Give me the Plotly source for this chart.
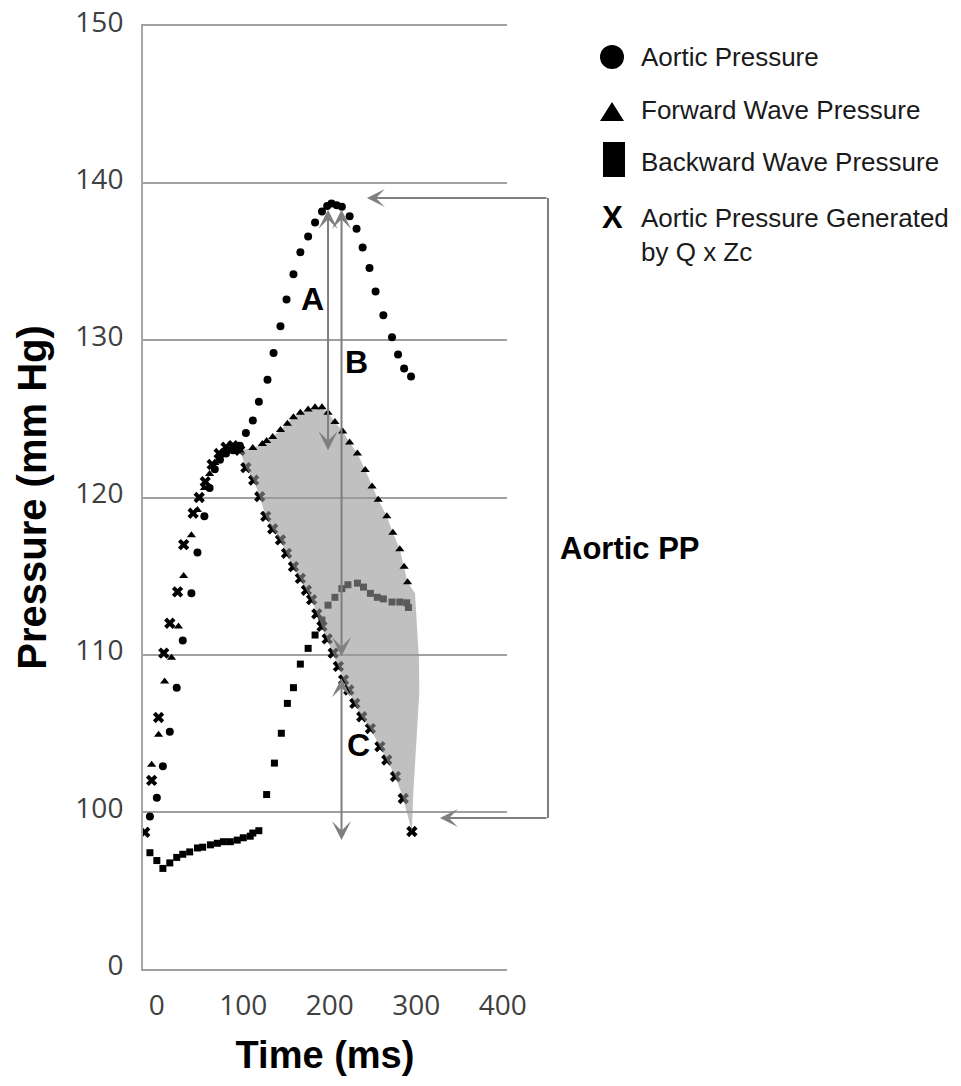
import plotly.graph_objects as go

# ---------------- data ----------------
aortic_t = [-8, 0, 7, 15, 23, 30, 40, 47, 55, 61, 67, 73, 80, 88, 96, 103, 111, 118, 128, 135,
            143, 150, 158, 166, 175, 183, 191, 197, 202, 208, 214, 223, 231, 238, 246, 253,
            262, 272, 279, 286, 294]
aortic_p = [99.7, 100.9, 102.9, 105.1, 107.9, 110.9, 113.9, 116.5, 118.8, 120.6, 121.8, 122.4,
            122.8, 123.0, 123.3, 124.1, 124.9, 126.1, 127.5, 129.2, 130.9, 132.6, 134.2, 135.6,
            136.6, 137.5, 138.2, 138.55, 138.7, 138.6, 138.5, 137.9, 137.1, 135.9, 134.6, 133.1,
            131.6, 130.2, 129.1, 128.2, 127.7]

forward_t = [-6, 2, 9, 17, 25, 31, 40, 47, 55, 61, 67, 73, 80, 88, 96, 111, 122, 127, 134, 143,
             151, 158, 166, 175, 183, 191, 198, 206, 215, 223, 232, 241, 249, 256, 266, 273,
             281, 286, 290]
forward_p = [103.0, 104.9, 108.3, 109.8, 111.8, 115.0, 117.6, 119.2, 120.6, 121.5, 122.2, 122.7,
             123.0, 123.0, 123.0, 123.15, 123.4, 123.6, 123.85, 124.3, 124.7, 125.1, 125.4, 125.6,
             125.75, 125.75, 125.4, 124.8, 124.2, 123.5, 122.8, 121.75, 120.7, 119.85, 118.8,
             117.75, 116.7, 115.6, 114.6]

backward_t = [-8, 0, 7, 15, 23, 30, 38, 47, 53, 62, 70, 77, 85, 93, 100, 108, 111, 118,
              127, 136, 144, 151, 158, 166, 175, 183, 191, 198, 206, 214, 221, 232, 239, 247,
              255, 262, 272, 281, 289, 291]
backward_p = [97.4, 96.9, 96.4, 96.75, 97.1, 97.3, 97.45, 97.7, 97.75, 97.9, 98.0, 98.1, 98.1,
              98.2, 98.35, 98.45, 98.65, 98.8, 101.1, 103.1, 105.0, 106.9, 107.9, 109.4, 110.4,
              111.25, 112.2, 113.15, 113.65, 114.2, 114.45, 114.55, 114.3, 113.9, 113.65, 113.55,
              113.35, 113.35, 113.3, 113.0]

qzc_t = [-14, -6, 2, 8, 15, 24, 31, 42, 49, 56, 64, 72, 80, 88, 96, 103, 112, 119, 126, 134,
         143, 150, 158, 166, 173, 179, 185, 191, 197, 204, 210, 216, 222, 229, 237, 247, 258,
         266, 276, 285, 295]
qzc_p = [98.7, 102.0, 106.0, 110.1, 112.0, 114.0, 117.0, 119.0, 120.0, 121.0, 122.1, 122.8,
         123.2, 123.3, 123.0, 121.9, 121.1, 120.05, 118.8, 118.0, 117.3, 116.45, 115.6, 114.85,
         114.1, 113.5, 112.6, 111.8, 111.0, 110.1, 109.25, 108.4, 107.75, 106.9, 106.05, 105.3,
         104.15, 103.3, 102.25, 100.85, 98.75]

# right-hand outline of the shaded area between the forward wave end and the Q x Zc end
shade_edge_t = [298.6, 301.3, 303.2, 303.6, 301.3, 299.4, 296.6]
shade_edge_p = [113.9, 111.8, 109.7, 107.6, 105.4, 103.3, 101.2]

x_ticks = [0, 100, 200, 300, 400]
y_ticks = [90, 100, 110, 120, 130, 140, 150]
y_ticklabels = ["0", "100", "110", "120", "130", "140", "150"]

legend_labels = ["Aortic Pressure", "Forward Wave Pressure", "Backward Wave Pressure",
                 "Aortic Pressure Generated<br>by Q x Zc"]

# ---------------- layout geometry ----------------
W, H = 961, 1086
L, R, T, B = 143, 454, 26, 117
PW, PH = W - L - R, H - T - B
X_RANGE = [-16, 405]
Y_RANGE = [90, 150]


def xp(px):
    return (px - L) / PW


def yp(py):
    return (H - B - py) / PH


def xpd(t):
    return (t - X_RANGE[0]) / (X_RANGE[1] - X_RANGE[0])


def ypd(p):
    return (p - Y_RANGE[0]) / (Y_RANGE[1] - Y_RANGE[0])


px_per_ms = PW / (X_RANGE[1] - X_RANGE[0])

# shaded region polygon built from the series
i0 = forward_t.index(96)
j0 = qzc_t.index(103)
shade_x = forward_t[i0:] + shade_edge_t + qzc_t[j0:][::-1]
shade_y = forward_p[i0:] + shade_edge_p + qzc_p[j0:][::-1]

fig = go.Figure()
fig.add_trace(go.Scatter(x=backward_t, y=backward_p, mode="markers", name="Backward Wave Pressure",
                         marker=dict(symbol="square", size=7, color="black"), hoverinfo="skip"))
fig.add_trace(go.Scatter(x=qzc_t, y=qzc_p, mode="markers", name="Aortic Pressure Generated by Q x Zc",
                         marker=dict(symbol="x", size=10, color="black", line=dict(width=0)),
                         hoverinfo="skip"))
fig.add_trace(go.Scatter(x=shade_x, y=shade_y, mode="lines", fill="toself",
                         fillcolor="rgba(150,150,150,0.6)", line=dict(width=0),
                         hoverinfo="skip", showlegend=False))
fig.add_trace(go.Scatter(x=forward_t, y=forward_p, mode="markers", name="Forward Wave Pressure",
                         marker=dict(symbol="triangle-up", size=8, color="black"), hoverinfo="skip"))
fig.add_trace(go.Scatter(x=aortic_t, y=aortic_p, mode="markers", name="Aortic Pressure",
                         marker=dict(symbol="circle", size=8, color="black"), hoverinfo="skip"))

GREY = "#7f7f7f"
ann = []
# vertical double-headed arrows (A, B, C)
peak_level = 138.4
for (xa, y_top, y_bot) in [(198, peak_level, 123.0), (213.6, peak_level, 109.9), (213.6, 108.6, 98.2)]:
    ann.append(dict(x=xa, y=y_bot, ax=xa, ay=y_top, xref="x", yref="y", axref="x", ayref="y",
                    text="", showarrow=True, arrowside="end+start", arrowhead=3, startarrowhead=3,
                    arrowsize=1.6, startarrowsize=1.6, arrowwidth=2, arrowcolor=GREY,
                    standoff=0, startstandoff=0))

# bracket for Aortic PP
bracket_t = 452.4
pp_top, pp_bot = 139.05, 99.6
for (tip_t, lev) in [(243, pp_top), (327.5, pp_bot)]:
    ann.append(dict(x=tip_t, y=lev, xref="x", yref="y", ax=(bracket_t - tip_t) * px_per_ms, ay=0,
                    text="", showarrow=True, arrowhead=3, arrowsize=1.5, arrowwidth=2,
                    arrowcolor=GREY, standoff=0))

letter_font = dict(family="Liberation Sans", size=32, color="black", weight="bold")
for txt, xt, yt in [("A", 179.5, 132.6), ("B", 231.5, 128.6), ("C", 232.7, 104.25)]:
    ann.append(dict(x=xt, y=yt, xref="x", yref="y", text=txt, showarrow=False, font=letter_font))

ann.append(dict(x=xp(558), y=yp(548), xref="paper", yref="paper", xanchor="left", yanchor="middle",
                text="Aortic PP", showarrow=False,
                font=dict(family="Liberation Sans", size=31, color="black", weight="bold")))

# manual legend
leg_font = dict(family="Liberation Sans", size=26, color="#1a1a1a")
for lab, cy in zip(legend_labels, [57, 110, 162, 235]):
    ann.append(dict(x=xp(639), y=yp(cy), xref="paper", yref="paper", xanchor="left",
                    yanchor="middle", align="left", text=lab, showarrow=False, font=leg_font))
ann.append(dict(x=xp(612), y=yp(218), xref="paper", yref="paper", xanchor="center", yanchor="middle",
                text="X", showarrow=False,
                font=dict(family="Liberation Sans", size=31, color="black", weight="bold")))

shapes = [
    dict(type="line", xref="paper", yref="paper", x0=xpd(bracket_t), x1=xpd(bracket_t),
         y0=ypd(pp_top), y1=ypd(pp_bot), line=dict(color=GREY, width=2)),
    dict(type="circle", xref="paper", yref="paper", xsizemode="pixel", ysizemode="pixel",
         xanchor=xp(612), yanchor=yp(57), x0=-12, x1=12, y0=-12, y1=12,
         fillcolor="black", line=dict(width=0)),
    dict(type="path", xref="paper", yref="paper", xsizemode="pixel", ysizemode="pixel",
         xanchor=xp(612), yanchor=yp(112), path="M-12,-9L12,-9L0,10Z",
         fillcolor="black", line=dict(width=0)),
    dict(type="rect", xref="paper", yref="paper", xsizemode="pixel", ysizemode="pixel",
         xanchor=xp(614), yanchor=yp(159.5), x0=-11, x1=11, y0=-17.5, y1=17.5,
         fillcolor="black", line=dict(width=0)),
]

tick_font = dict(family="Open Sans", size=28, color="#404040")
title_font = dict(family="Liberation Sans", size=40, color="black", weight="bold")

fig.update_layout(
    width=W, height=H, margin=dict(l=L, r=R, t=T, b=B, pad=0, autoexpand=False),
    paper_bgcolor="white", plot_bgcolor="white", showlegend=False,
    annotations=ann, shapes=shapes,
    xaxis=dict(range=X_RANGE, tickvals=x_ticks, ticktext=[str(v) for v in x_ticks],
               showgrid=False, zeroline=False, showline=True, mirror=True, automargin=False,
               linecolor="#a0a0a0", linewidth=2,
               ticks="", tickfont=tick_font, ticklabelstandoff=10,
               title=dict(text="Time (ms)", font=dict(family="Liberation Sans", size=38,
                                                       color="black", weight="bold"), standoff=20)),
    yaxis=dict(range=Y_RANGE, tickvals=y_ticks, ticktext=y_ticklabels, automargin=False,
               showgrid=True, gridcolor="#a0a0a0", gridwidth=2, zeroline=False,
               showline=True, linecolor="#a6a6a6", linewidth=2,
               ticks="", tickfont=tick_font, ticklabelstandoff=12, ticklabelshift=-4,
               title=dict(text="Pressure (mm Hg)", font=title_font, standoff=16)),
)

fig.write_html("out.html")
